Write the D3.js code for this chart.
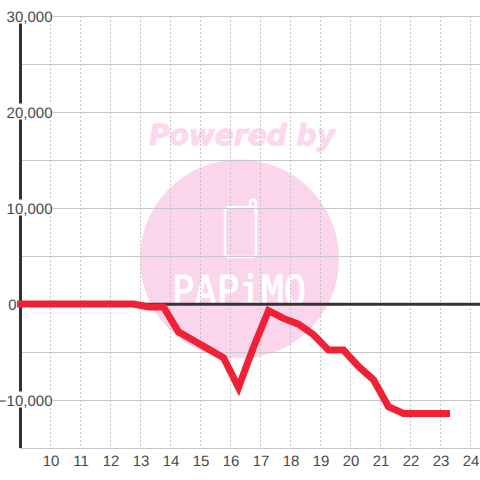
<!DOCTYPE html>
<html>
<head>
<meta charset="utf-8">
<script src="https://cdnjs.cloudflare.com/ajax/libs/d3/7.8.5/d3.min.js"></script>
<style>
html, body { margin: 0; padding: 0; background: #fff; }
svg { display: block; }
text { font-family: "Liberation Sans", Arial, sans-serif; text-rendering: geometricPrecision; }
</style>
</head>
<body>
<svg id="chart" width="480" height="480"></svg>
<script>
// values
var hours = [8.87, 12.75, 13.25, 13.75, 14.25, 14.75, 15.25, 15.75, 16.25, 16.75, 17.25, 17.75, 18.25, 18.75, 19.25, 19.75, 20.25, 20.75, 21.25, 21.75, 23.3];
var values = [0, 0, -300, -300, -2900, -3800, -4700, -5600, -8700, -4500, -700, -1500, -2100, -3200, -4800, -4800, -6500, -7900, -10700, -11400, -11400];
var xTicks = [10, 11, 12, 13, 14, 15, 16, 17, 18, 19, 20, 21, 22, 23, 24];
var yTicks = [30000, 25000, 20000, 15000, 10000, 5000, 0, -5000, -10000, -15000];
var yLabels = [30000, 20000, 10000, 0, -10000];

var svg = d3.select("#chart");

var x = d3.scaleLinear().domain([10, 24]).range([51, 471]);
var y = d3.scaleLinear().domain([-15000, 30000]).range([448, 16]);
var fmt = d3.format(",");

// watermark
var mark = svg.append("g");
mark.append("circle").attr("cx", 239.5).attr("cy", 259).attr("r", 99.5).attr("fill", "#fbd5ec");
mark.append("text")
    .attr("x", 149).attr("y", 145)
    .attr("textLength", 186).attr("lengthAdjust", "spacingAndGlyphs")
    .style("font-family", "'DejaVu Sans'")
    .style("font-weight", "bold")
    .style("font-style", "italic")
    .style("font-size", "29px")
    .attr("fill", "#fcd8ef")
    .attr("stroke", "#fcd8ef").attr("stroke-width", 1)
    .text("Powered by");
mark.append("rect")
    .attr("x", 225).attr("y", 207).attr("width", 31).attr("height", 50).attr("rx", 4)
    .attr("fill", "none").attr("stroke", "#fff").attr("stroke-width", 2.5);
mark.append("path")
    .attr("d", "M250 207 V202 Q250 200 253 200 Q256 200 256 203 V215")
    .attr("fill", "none").attr("stroke", "#fff").attr("stroke-width", 2.5);
mark.append("text")
    .attr("x", 172).attr("y", 305)
    .attr("textLength", 134).attr("lengthAdjust", "spacingAndGlyphs")
    .style("font-family", "'DejaVu Sans Mono'")
    .style("font-size", "41px")
    .attr("fill", "#fff")
    .attr("stroke", "#fff").attr("stroke-width", 1)
    .text("PAPiMO");

// grid
svg.append("g").selectAll("line").data(yTicks).enter().append("line")
    .attr("x1", 20).attr("x2", 480)
    .attr("y1", function(d) { return Math.round(y(d)) + 0.5; })
    .attr("y2", function(d) { return Math.round(y(d)) + 0.5; })
    .attr("stroke", "#c8c8c8");

svg.append("g").selectAll("line").data(xTicks).enter().append("line")
    .attr("x1", function(d) { return Math.round(x(d)) - 0.5; })
    .attr("x2", function(d) { return Math.round(x(d)) - 0.5; })
    .attr("y1", 16).attr("y2", 448)
    .attr("stroke", "#c4c4c4")
    .attr("stroke-dasharray", "2,2");

// axes
svg.append("line")
    .attr("x1", 20.5).attr("x2", 20.5).attr("y1", 16).attr("y2", 448)
    .attr("stroke", "#333").attr("stroke-width", 3);
svg.append("line")
    .attr("x1", 20).attr("x2", 480).attr("y1", y(0) + 0.2).attr("y2", y(0) + 0.2)
    .attr("stroke", "#333").attr("stroke-width", 3);

// labels, white box behind them breaks the axis and grid like the original
var labelEnd = function(d) { return d === 0 ? 16.5 : 52.5; };
var labelBox = yLabels.filter(function(d) { return d !== 0; });

svg.append("g").selectAll("rect").data(labelBox).enter().append("rect")
    .attr("x", 1)
    .attr("y", function(d) { return y(d) - 8.5; })
    .attr("width", 52)
    .attr("height", 16)
    .attr("fill", "#fff");

svg.append("g").selectAll("text").data(yLabels).enter().append("text")
    .attr("x", labelEnd)
    .attr("y", function(d) { return y(d) + 6; })
    .attr("text-anchor", "end")
    .style("font-size", "15px")
    .attr("fill", "#484848")
    .text(function(d) { return fmt(d); });

svg.append("g").selectAll("text").data(xTicks).enter().append("text")
    .attr("x", function(d) { return x(d); })
    .attr("y", 466)
    .attr("text-anchor", "middle")
    .style("font-size", "15px")
    .attr("fill", "#484848")
    .text(function(d) { return d; });

// series
var line = d3.line()
    .x(function(d) { return x(d[0]); })
    .y(function(d) { return y(d[1]); });

svg.append("path")
    .datum(d3.zip(hours, values))
    .attr("d", line)
    .attr("fill", "none")
    .attr("stroke", "#f02035")
    .attr("stroke-width", 7)
    .attr("stroke-linejoin", "miter");
</script>
</body>
</html>
